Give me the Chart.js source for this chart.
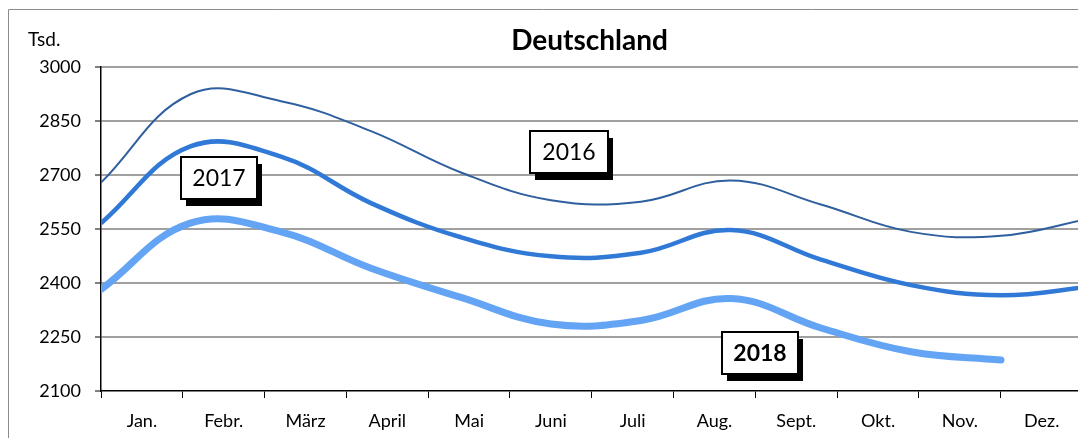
<!DOCTYPE html>
<html>
<head>
<meta charset="utf-8">
<script src="https://cdn.jsdelivr.net/npm/chart.js@4/dist/chart.umd.min.js"></script>
<style>
  html, body { margin: 0; padding: 0; background: #ffffff; }
  #wrap { width: 1078px; height: 438px; position: relative; }
</style>
</head>
<body>
<div id="wrap"><canvas id="c" width="1078" height="438"></canvas></div>
<script>
// ---- data ----
const months = ['Jan.', 'Febr.', 'März', 'April', 'Mai', 'Juni', 'Juli', 'Aug.', 'Sept.', 'Okt.', 'Nov.', 'Dez.'];
const values2016 = [2679, 2925, 2905, 2822, 2707, 2630, 2626, 2685, 2618, 2542, 2531, 2580];
const values2017 = [2566, 2780, 2751, 2622, 2527, 2474, 2484, 2547, 2465, 2394, 2366, 2390];
const values2018 = [2382, 2567, 2542, 2441, 2360, 2286, 2296, 2357, 2275, 2209, 2186];
const yTicks = [2100, 2250, 2400, 2550, 2700, 2850, 3000];
const seriesNames = ['2016', '2017', '2018'];
const titleText = 'Deutschland';
const unitText = 'Tsd.';

const FONT = 'Lato, "Open Sans", sans-serif';
const toPoints = arr => arr.map((v, i) => ({ x: i, y: v }));

// label boxes (anchored in data coordinates)
const boxes = [
  { text: seriesNames[0], x: 5.2, y: 2764, w: 78, h: 42, bold: false },
  { text: seriesNames[1], x: 1.31, y: 2692, w: 76, h: 42, bold: false },
  { text: seriesNames[2], x: 7.32, y: 2206, w: 76, h: 42, bold: true }
];

const decorPlugin = {
  id: 'decor',
  beforeDraw(chart) {
    const ctx = chart.ctx;
    ctx.save();
    ctx.strokeStyle = '#8c8c8c';
    ctx.lineWidth = 1;
    ctx.beginPath();
    ctx.moveTo(8.5, 450);
    ctx.lineTo(8.5, 9.5);
    ctx.lineTo(1090, 9.5);
    ctx.stroke();
    ctx.fillStyle = '#000';
    ctx.font = '19px ' + FONT;
    ctx.textAlign = 'left';
    ctx.textBaseline = 'middle';
    ctx.fillText(unitText, 28, 40);
    ctx.restore();
  },
  afterDatasetsDraw(chart) {
    const ctx = chart.ctx;
    const xs = chart.scales.xd, ys = chart.scales.y;
    ctx.save();
    boxes.forEach(b => {
      const cx = xs.getPixelForValue(b.x), cy = ys.getPixelForValue(b.y);
      const l = Math.round(cx - b.w / 2), t = Math.round(cy - b.h / 2);
      ctx.fillStyle = '#000';
      ctx.fillRect(l + 5, t + 7, b.w, b.h);
      ctx.fillStyle = '#fff';
      ctx.fillRect(l, t, b.w, b.h);
      ctx.strokeStyle = '#000';
      ctx.lineWidth = 2;
      ctx.strokeRect(l, t, b.w, b.h);
      ctx.fillStyle = '#000';
      ctx.font = (b.bold ? 'bold ' : '') + '23px ' + FONT;
      ctx.textAlign = 'center';
      ctx.textBaseline = 'middle';
      ctx.fillText(b.text, l + b.w / 2, t + b.h / 2 + 1);
    });
    ctx.restore();
  }
};

new Chart(document.getElementById('c'), {
  type: 'line',
  data: {
    datasets: [
      { label: seriesNames[0], data: toPoints(values2016), borderColor: '#2f5f9e', borderWidth: 2, xAxisID: 'xd', yAxisID: 'y' },
      { label: seriesNames[1], data: toPoints(values2017), borderColor: '#3079d6', borderWidth: 4.5, xAxisID: 'xd', yAxisID: 'y' },
      { label: seriesNames[2], data: toPoints(values2018), borderColor: '#64a4f4', borderWidth: 7, borderCapStyle: 'round', xAxisID: 'xd', yAxisID: 'y' }
    ]
  },
  options: {
    responsive: false,
    animation: false,
    layout: { padding: 0 },
    elements: {
      point: { radius: 0, hoverRadius: 0 },
      line: { tension: 0.4, fill: false }
    },
    datasets: { line: { clip: { left: 0, right: 0, top: false, bottom: false } } },
    plugins: {
      legend: { display: false },
      tooltip: { enabled: false },
      title: {
        display: true,
        text: titleText,
        fullSize: false,
        color: '#000',
        font: { family: FONT, size: 28, weight: 'bold', lineHeight: 1.2 },
        padding: { top: 24, bottom: 9.4 }
      }
    },
    scales: {
      xd: {
        type: 'linear',
        display: false,
        min: 0,
        max: 10.856
      },
      x: {
        type: 'linear',
        position: 'bottom',
        min: 0,
        max: 11.944,
        afterFit(scale) { scale.height = 47; },
        border: { display: true, color: '#000', width: 1.5 },
        grid: {
          drawOnChartArea: false,
          drawTicks: true,
          tickLength: 7,
          tickWidth: 1,
          tickColor: ctx => (ctx.tick && Math.abs(ctx.tick.value % 1) < 1e-6) ? '#000' : 'rgba(0,0,0,0)'
        },
        ticks: {
          stepSize: 0.5,
          autoSkip: false,
          includeBounds: false,
          maxRotation: 0,
          padding: 12,
          color: '#000',
          font: { family: FONT, size: 18 },
          callback: v => {
            const f = Math.floor(v);
            return Math.abs(v - f - 0.5) < 1e-6 ? months[f] : '';
          }
        }
      },
      y: {
        type: 'linear',
        position: 'left',
        min: yTicks[0],
        max: yTicks[yTicks.length - 1],
        afterFit(scale) { scale.width = 101; },
        afterBuildTicks(scale) { scale.ticks = yTicks.map(v => ({ value: v })); },
        border: { display: true, color: '#000', width: 1.5 },
        grid: {
          color: ctx => (ctx.tick && ctx.tick.value === yTicks[0]) ? 'rgba(0,0,0,0)' : '#a0a0a0',
          lineWidth: 2,
          tickColor: '#000',
          tickLength: 6,
          tickWidth: 1
        },
        ticks: {
          padding: 14,
          color: '#000',
          font: { family: FONT, size: 18 },
          callback: v => String(v)
        }
      }
    }
  },
  plugins: [decorPlugin]
});
</script>
</body>
</html>
